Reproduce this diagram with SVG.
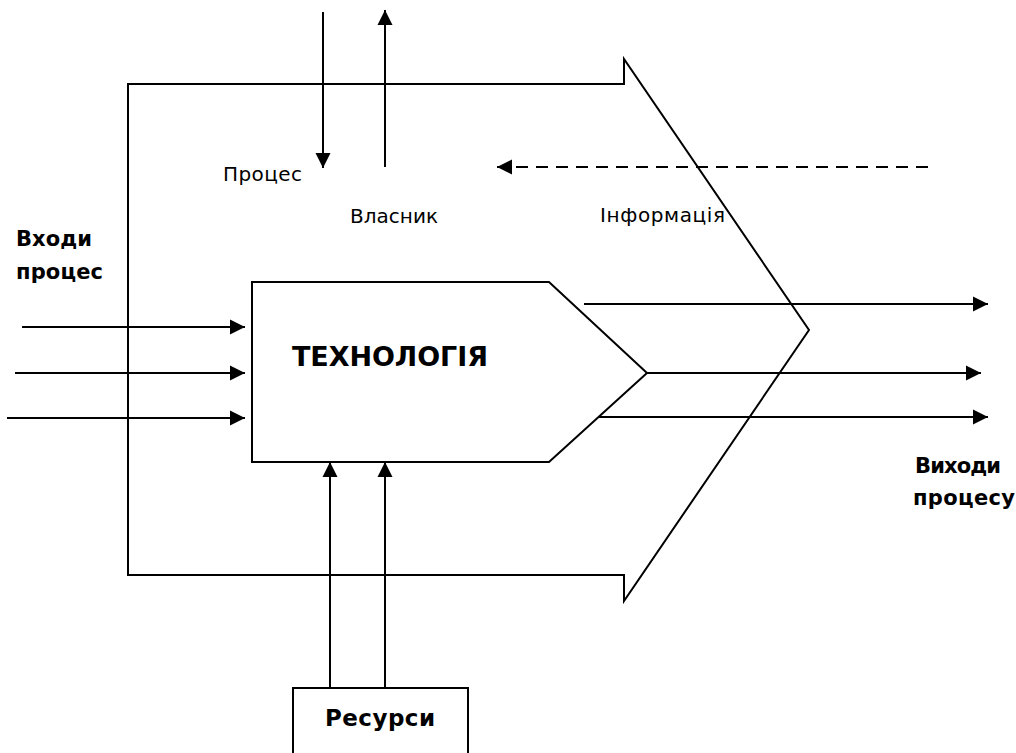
<svg xmlns="http://www.w3.org/2000/svg" width="1016" height="753" viewBox="0 0 1016 753">
  <style>
    .ln { stroke: #000; stroke-width: 2; fill: none; }
    .shape { stroke: #000; stroke-width: 2; fill: #fff; }
    .arr { stroke: #000; stroke-width: 2; fill: none; marker-end: url(#head); }
    .dash { stroke-dasharray: 12 8; }
    .reg { font-family: "DejaVu Sans", Verdana, sans-serif; font-size: 20px; fill: #000; }
    .bold { font-family: "DejaVu Sans", Verdana, sans-serif; font-weight: bold; fill: #000; }
  </style>
  <defs>
    <marker id="head" markerUnits="userSpaceOnUse" markerWidth="18" markerHeight="18" viewBox="0 0 18 18" refX="16" refY="9" orient="auto">
      <path d="M1,1.5 L16,9 L1,16.5 Z" fill="#000"/>
    </marker>
  </defs>
  <rect width="1016" height="753" fill="#fff"/>

  <!-- process boundary: wide arrow -->
  <g id="process">
    <path class="ln" d="M128,84 L624,84 L624,59 L809,330 L624,601 L624,575 L128,575 Z"/>
  </g>

  <!-- technology block -->
  <g id="technology">
    <path class="shape" d="M252,282 L549,282 L647,373 L549,462 L252,462 Z"/>
    <text class="bold" x="292" y="366" font-size="27" textLength="196">ТЕХНОЛОГІЯ</text>
  </g>

  <!-- resources block -->
  <g id="resources">
    <rect class="shape" x="293" y="688" width="175" height="80"/>
    <text class="bold" x="325" y="726" font-size="23" textLength="110">Ресурси</text>
  </g>

  <g id="labels">
    <text class="reg" x="223" y="181" textLength="79">Процес</text>
    <text class="reg" x="350" y="223" textLength="88">Власник</text>
    <text class="reg" x="600" y="222" textLength="125">Інформація</text>
    <text class="bold" font-size="21" x="16" y="246" textLength="76">Входи</text>
    <text class="bold" font-size="21" x="16" y="279" textLength="87">процес</text>
    <text class="bold" font-size="21" x="915" y="473" textLength="86">Виходи</text>
    <text class="bold" font-size="21" x="913" y="505" textLength="102">процесу</text>
  </g>

  <!-- connectors -->
  <g id="connectors">
    <line class="arr" x1="323" y1="12" x2="323" y2="168"/>
    <line class="arr" x1="385" y1="167" x2="385" y2="10"/>
    <line class="arr dash" x1="928" y1="167" x2="497" y2="167"/>

    <line class="arr" x1="22" y1="327" x2="245" y2="327"/>
    <line class="arr" x1="15" y1="373" x2="245" y2="373"/>
    <line class="arr" x1="7" y1="418" x2="245" y2="418"/>

    <line class="arr" x1="584" y1="304" x2="988" y2="304"/>
    <line class="arr" x1="647" y1="373" x2="981" y2="373"/>
    <line class="arr" x1="598" y1="417" x2="988" y2="417"/>

    <line class="arr" x1="330" y1="688" x2="330" y2="462"/>
    <line class="arr" x1="385" y1="688" x2="385" y2="462"/>
  </g>
</svg>
